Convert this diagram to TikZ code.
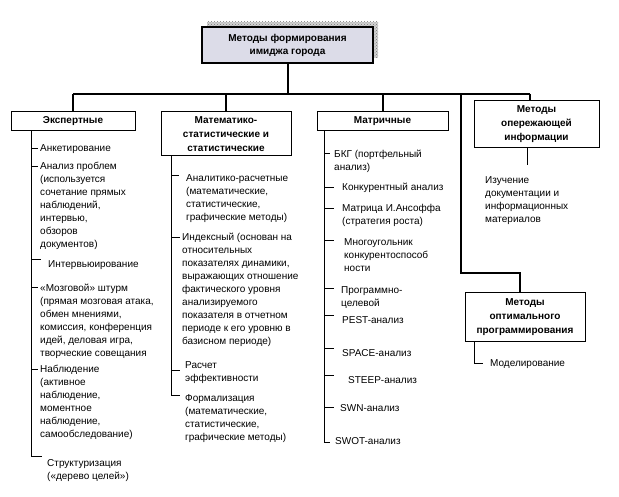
\documentclass[tikz,border=0pt]{standalone}
\usepackage{fontspec}
\setmainfont{Liberation Sans}
\usetikzlibrary{patterns}
\newcommand{\blk}[1]{\begin{tabular}[t]{@{}l@{}}#1\end{tabular}}
\definecolor{lav}{RGB}{220,220,232}
\definecolor{shad}{RGB}{120,120,120}
\begin{document}
\begin{tikzpicture}[x=1pt,y=-1pt,
  font=\fontsize{10}{13}\selectfont,
  box/.style={draw, line width=1pt, fill=white, inner sep=0pt, align=center,
              font=\bfseries\fontsize{10}{14}\selectfont},
  topbox/.style={box, line width=1.6pt, fill=lav, font=\bfseries\fontsize{10}{13}\selectfont},
  item/.style={anchor=base west, inner sep=0pt},
  conn/.style={line width=2pt},
  sub/.style={line width=0.8pt}]
\useasboundingbox (0,0) rectangle (619,497);
\fill[white] (0,0) rectangle (619,497);

% top box with shadow
\fill[gray!35] (207,22) rectangle (378,58);
\fill[pattern=crosshatch dots, pattern color=shad] (207,22) rectangle (378,58);
\node[topbox, minimum width=171pt, minimum height=36pt] (top) at (287.5,45) {Методы формирования\\имиджа города};

% category boxes
\node[box, minimum width=124pt, minimum height=19pt] (exp) at (73,121.5) {Экспертные};
\node[box, minimum width=130pt, minimum height=44pt] (mat) at (226,134) {Математико-\\статистические и\\статистические};
\node[box, minimum width=131pt, minimum height=19pt] (mtr) at (382.5,121) {Матричные};
\node[box, minimum width=125pt, minimum height=47pt] (opj) at (536.5,124.5) {Методы\\опережающей\\информации};
\node[box, minimum width=120pt, minimum height=49pt] (opt) at (525,317.5) {Методы\\оптимального\\программирования};

% bus
\coordinate (bus) at (287.5,94);
\coordinate (busL) at (73,94);
\coordinate (busR) at (530,94);
\coordinate (lv) at (461,94);
\coordinate (lvb) at (461,273);
\draw[conn] (top.south) -- (bus);
\draw[conn] (busL) -- (busR);
\draw[conn] (busL) -- (exp.north);
\draw[conn] (mat.north |- bus) -- (mat.north);
\draw[conn] (mtr.north |- bus) -- (mtr.north);
\draw[conn] (busR) -- (busR |- opj.north);
\draw[conn] (lv) -- (lvb) -- (lvb -| 520,0) -- (opt.north -| 520,0);

% column 1
\coordinate (v1t) at (31,131);
\coordinate (v1b) at (31,456);
\draw[sub] (v1t) -- (v1b) -- (42,456);
\node[item] (a1) at (40,151.5) {Анкетирование};
\node[item] (a2) at (40,169.5) {\blk{Анализ проблем\\(используется\\сочетание прямых\\наблюдений,\\интервью,\\обзоров\\документов)}};
\node[item] (a3) at (48,267.5) {Интервьюирование};
\node[item] (a4) at (40,291.5) {\blk{«Мозговой» штурм\\(прямая мозговая атака,\\обмен мнениями,\\комиссия, конференция\\идей, деловая игра,\\творческие совещания}};
\node[item] (a5) at (40,372.5) {\blk{Наблюдение\\(активное\\наблюдение,\\моментное\\наблюдение,\\самообследование)}};
\node[item] (a6) at (47,466.5) {\blk{Структуризация\\(«дерево целей»)}};
\foreach \y in {148,166,287,369} \draw[sub] (31,\y) -- (38,\y);
\draw[sub] (31,259) -- (41,259);

% column 2
\coordinate (v2t) at (171,156);
\coordinate (v2b) at (171,395);
\draw[sub] (v2t) -- (v2b) -- (180,395);
\node[item] (b1) at (186,181.5) {\blk{Аналитико-расчетные\\(математические,\\статистические,\\графические методы)}};
\node[item] (b2) at (182,240.5) {\blk{Индексный (основан на\\относительных\\показателях динамики,\\выражающих отношение\\фактического уровня\\анализируемого\\показателя в отчетном\\периоде к его уровню в\\базисном периоде)}};
\node[item] (b3) at (185,368.5) {\blk{Расчет\\эффективности}};
\node[item] (b4) at (185,401.5) {\blk{Формализация\\(математические,\\статистические,\\графические методы)}};
\draw[sub] (171,175) -- (179,175);
\draw[sub] (171,237) -- (180,237);
\draw[sub] (171,370) -- (180,370);

% column 3
\coordinate (v3t) at (324,130.5);
\coordinate (v3b) at (324,442);
\draw[sub] (v3t) -- (v3b) -- (330,442);
\node[item] (m1) at (334,157.5) {\blk{БКГ (портфельный\\анализ)}};
\node[item] (m2) at (342,190.5) {Конкурентный анализ};
\node[item] (m3) at (342,211.5) {\blk{Матрица И.Ансоффа\\(стратегия роста)}};
\node[item] (m4) at (344,245.5) {\blk{Многоугольник\\конкурентоспособ\\ности}};
\node[item] (m5) at (341,293.5) {\blk{Программно-\\целевой}};
\node[item] (m6) at (342,323.5) {PEST-анализ};
\node[item] (m7) at (342,356.5) {SPACE-анализ};
\node[item] (m8) at (348,383.5) {STEEP-анализ};
\node[item] (m9) at (340,411.5) {SWN-анализ};
\node[item] (m10) at (335,444.5) {SWOT-анализ};
\draw[sub] (324,153) -- (330,153);
\foreach \y in {187,208,240,288,315,348,375,407} \draw[sub] (324,\y) -- (334,\y);

% column 4
\draw[sub] (opj.south -| 527,0) -- (527,165);
\node[item] (inf) at (485,183.5) {\blk{Изучение\\документации и\\информационных\\материалов}};
\draw[sub] (opt.south -| 474,0) -- (474,363) -- (483,363);
\node[item] (mod) at (490,366.5) {Моделирование};
\end{tikzpicture}
\end{document}
